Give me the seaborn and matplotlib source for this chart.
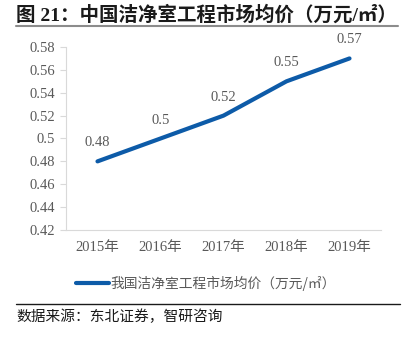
import matplotlib
matplotlib.use("Agg")
import matplotlib.pyplot as plt
import seaborn as sns
import pandas as pd
from matplotlib.lines import Line2D

years = ["2015年", "2016年", "2017年", "2018年", "2019年"]
prices = [0.48, 0.50, 0.52, 0.55, 0.57]
price_labels = ["0.48", "0.5", "0.52", "0.55", "0.57"]
yticks = [0.42, 0.44, 0.46, 0.48, 0.50, 0.52, 0.54, 0.56, 0.58]
ytick_labels = ["0.42", "0.44", "0.46", "0.48", "0.5", "0.52", "0.54", "0.56", "0.58"]
series_name = "我国洁净室工程市场均价（万元/㎡）"
title = "图 21：中国洁净室工程市场均价（万元/㎡）"
source = "数据来源：东北证券，智研咨询"

sns.set_style("white")
plt.rcParams['font.family'] = ['Liberation Serif', 'Noto Sans CJK SC', 'DejaVu Sans']

df = pd.DataFrame({"year": years, "price": prices})

fig = plt.figure(figsize=(4.17, 3.37), dpi=100)
ax = fig.add_axes([66/417, 1-230/337, (381-66)/417, (230-47)/337])

color = "#0D5BA8"
sns.lineplot(data=df, x="year", y="price", ax=ax, color=color, linewidth=3.0,
             solid_capstyle="round", sort=False)

for i, (v, lab) in enumerate(zip(prices, price_labels)):
    ax.annotate(lab, (i, v), xytext=(0, 13.3), textcoords="offset points",
                ha="center", va="center", fontsize=10.5, color="#595959")

ax.set_xlim(-0.5, len(years) - 0.5)
ax.set_ylim(0.42, 0.58)
ax.set_yticks(yticks)
ax.set_yticklabels(ytick_labels)
ax.set_xlabel("")
ax.set_ylabel("")
ax.set_xticks(range(len(years)))
ax.set_xticklabels(years)
ax.set_xticks([i - 0.5 for i in range(len(years) + 1)], minor=True)
ax.tick_params(axis="x", which="major", length=0, pad=8, labelsize=10.5, labelcolor="#595959")
ax.tick_params(axis="x", which="minor", length=4, color="#D9D9D9", width=0.8)
ax.tick_params(axis="y", which="major", length=4, color="#D9D9D9", width=0.8,
               labelsize=10.5, labelcolor="#595959", pad=4, left=True)

for s in ["top", "right"]:
    ax.spines[s].set_visible(False)
for s in ["left", "bottom"]:
    ax.spines[s].set_color("#D9D9D9")
    ax.spines[s].set_linewidth(0.8)

# legend
handle = Line2D([], [], color=color, linewidth=3.0)
fig.legend([handle], [series_name], loc="center left",
           bbox_to_anchor=(70/417, 1-283/337), frameon=False,
           handlelength=2.4, handletextpad=0.15, borderaxespad=0,
           prop={"family": ["Noto Sans CJK SC"], "size": 9.9},
           labelcolor="#595959")

# title
fig.text(16/417, 1-14.5/337, title, fontsize=14, fontweight="bold",
         ha="left", va="center", color="#1a1a1a",
         family=["Liberation Serif", "Noto Sans CJK SC"])
fig.add_artist(Line2D([16/417, 398/417], [1-25.5/337, 1-25.5/337], color="#8C8C8C", linewidth=1.5))

# bottom rule and source
fig.add_artist(Line2D([16/417, 400/417], [1-304/337, 1-304/337], color="#1a1a1a", linewidth=1.0))
fig.text(16/417, 1-317/337, source, fontsize=10.6, ha="left", va="center",
         color="#1a1a1a", family=["Noto Sans CJK SC"])

fig.savefig("out.png", dpi=100)
